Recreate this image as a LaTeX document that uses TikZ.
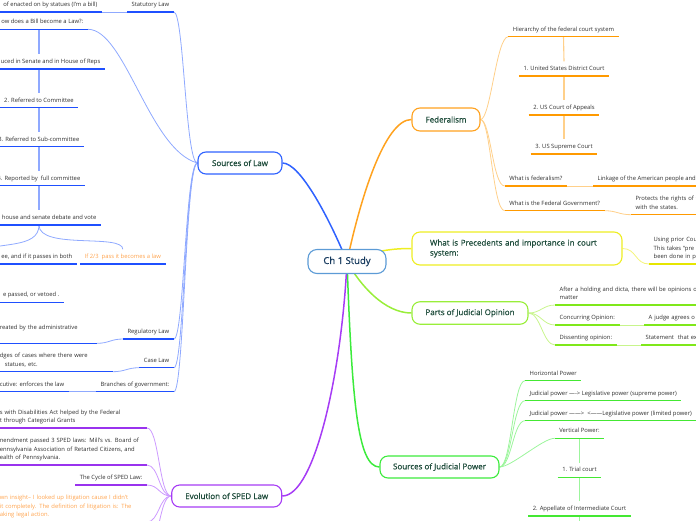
\documentclass[tikz,border=0pt]{standalone}
\usepackage{fontspec}
\setmainfont{Open Sans}
\newfontfamily\topicfam[FakeBold=0.6]{Open Sans}
\usetikzlibrary{backgrounds}
\definecolor{ttext}{HTML}{1D4B3A}
\definecolor{ctext}{HTML}{173A5E}
\definecolor{ltext}{HTML}{2E2E2E}
\definecolor{ortext}{HTML}{FFA34D}
\definecolor{cbord}{HTML}{5C9BD6}
\definecolor{bluem}{HTML}{2F62FF}
\definecolor{bluel}{HTML}{8FA9FF}
\definecolor{blueu}{HTML}{1F50FF}
\definecolor{orm}{HTML}{FFA21F}
\definecolor{orl}{HTML}{FFD08A}
\definecolor{oru}{HTML}{FF9A00}
\definecolor{yem}{HTML}{EEEE22}
\definecolor{yel}{HTML}{F4F47A}
\definecolor{yeu}{HTML}{E6E600}
\definecolor{lim}{HTML}{99EE3A}
\definecolor{lil}{HTML}{C8F58C}
\definecolor{liu}{HTML}{7FE81A}
\definecolor{grm}{HTML}{3CEB3C}
\definecolor{grl}{HTML}{9CF59C}
\definecolor{gru}{HTML}{44E833}
\definecolor{pum}{HTML}{A63CF5}
\definecolor{pul}{HTML}{CC99FF}
\definecolor{puu}{HTML}{9933EE}
\newcommand\leaffont{\fontsize{5.85}{8.3}\selectfont}
\newcommand\topicfont{\topicfam\fontsize{8}{10}\selectfont}
\tikzset{
 topic/.style={draw=#1, line width=1.1pt, fill=white, rounded corners=8pt, text=ttext, font=\topicfont, inner sep=0pt, align=center},
 cnode/.style={draw=cbord, line width=1.1pt, fill=white, rounded corners=9pt, text=ctext, font=\topicfam\fontsize{9.5}{11}\selectfont, inner sep=0pt, minimum width=78pt, minimum height=24pt},
 leaf/.style={font=\leaffont, text=ltext, inner xsep=4.5pt, inner ysep=3pt, align=left, execute at end node=\strut},
 ul/.style={line width=1.3pt, draw=#1},
 mainc/.style={line width=1.5pt, draw=#1},
 subc/.style={line width=0.8pt, draw=#1},
 chain/.style={line width=1.1pt, draw=#1},
}
\begin{document}
\begin{tikzpicture}[x=1pt,y=-1pt]
\useasboundingbox (0,0) rectangle (696,520);
\clip (0,0) rectangle (696,520);
% ---------- main topics
\node[cnode] (c) at (347,261.5) {Ch 1 Study};
\node[topic=bluem, minimum width=84pt, minimum height=22pt] (sl) at (240,163) {Sources of Law};
\node[topic=orm, minimum width=68pt, minimum height=23pt] (fed) at (446,119.5) {Federalism};
\node[topic=yem, minimum width=210pt, minimum height=33pt, text width=174pt, align=left] (prec) at (517,248.5) {\mbox{What is Precedents and importance in court}\\system:};
\node[topic=lim, minimum width=116pt, minimum height=22.5pt] (pjo) at (470,313) {Parts of Judicial Opinion};
\node[topic=grm, minimum width=119pt, minimum height=22pt] (sjp) at (439.5,467) {Sources of Judicial Power};
\node[topic=pum, minimum width=110pt, minimum height=22pt] (sped) at (226.7,496) {Evolution of SPED Law};
% ---------- Sources of Law leaves
\node[leaf, anchor=south east] (st0) at (102,12) {of enacted on by statues (I'm a bill)};
\node[leaf, anchor=south west] (stat) at (127,12) {Statutory Law};
\node[leaf, anchor=south east] (how) at (88,29.3) {ow does a Bill become a Law?:};
\node[leaf, anchor=south east] (b1) at (105,69) {uced in Senate and in House of Reps};
\node[leaf, anchor=south] (b2) at (39,107.7) {2. Referred to Committee};
\node[leaf, anchor=south east] (b3) at (84,146.7) {3. Referred to Sub-committee};
\node[leaf, anchor=south east] (b4) at (85,185.7) {4. Reported by\ \ full committee};
\node[leaf, anchor=south east] (b5) at (101,225) {house and senate debate and vote};
\node[leaf, anchor=south east] (b6a) at (77,264) {ee, and if it passes in both};
\node[leaf, anchor=south west, text=ortext] (b6b) at (80,264) {If 2/3\ \ pass it becomes a law};
\node[leaf, anchor=south east] (b7) at (64,302.3) {e passed, or vetoed .};
\node[leaf, anchor=south east, text width=92.5pt] (regc) at (97,343.3) {reated by the administrative\\\mbox{}};
\node[leaf, anchor=south east] (reg) at (174,339) {Regulatory Law};
\node[leaf, anchor=south east, text width=108.5pt] (casec) at (113,371.7) {dges of cases where there were\\\hspace*{5pt}statues, etc.};
\node[leaf, anchor=south east] (casel) at (174,367.7) {Case Law};
\node[leaf, anchor=south east] (brc) at (69,391.7) {cutive: enforces the law};
\node[leaf, anchor=south east] (br) at (174,391.7) {Branches of government:};
\coordinate (bx) at (39,0);
\coordinate (b6L) at (-25,253);
% ---------- SPED leaves
\node[leaf, anchor=south east, text width=142.5pt] (sp1) at (147,428) {\mbox{s with Disabilities Act helped by the Federal}\\\mbox{t through Categorial Grants}};
\node[leaf, anchor=south east, text width=142.5pt] (sp2) at (147,465) {\mbox{nendment passed 3 SPED laws: Mill's vs. Board of}\\\mbox{ennsylvania Association of Retarted Citizens, and}\\\mbox{ealth of Pennsylvania.}};
\node[leaf, anchor=south east] (cyc) at (147,485) {The Cycle of SPED Law:};
\node[leaf, anchor=south east, text width=142.5pt, text=ortext] (ins) at (147,522) {\mbox{wn insight-- I looked up litigation cause I didn't}\\\mbox{it completely. The definition of litigation is: The}\\\mbox{aking legal action.}};
\coordinate (spx) at (147,550);
% ---------- Federalism leaves
\node[leaf, anchor=south] (hier) at (563.5,36.7) {Hierarchy of the federal court system};
\node[leaf, anchor=south] (dc) at (564,76) {1. United States District Court};
\node[leaf, anchor=south] (ca) at (564,115) {2. US Court of Appeals};
\node[leaf, anchor=south] (sc) at (564,154) {3. US Supreme Court};
\node[leaf, anchor=south west] (wf) at (504.7,186) {What is federalism?};
\node[leaf, anchor=south west] (link) at (593,186) {Linkage of the American people and};
\node[leaf, anchor=south west] (wg) at (504.7,210.7) {What is the Federal Government?};
\node[leaf, anchor=south west, text width=80pt] (prot) at (631,214.7) {\mbox{Protects the rights of t}\\with the states.};
% ---------- Precedents leaf
\node[leaf, anchor=south west, text width=60pt] (using) at (649,264) {\mbox{Using prior Cou}\\\mbox{This takes ``pre}\\\mbox{been done in p}};
% ---------- Judicial opinion leaves
\node[leaf, anchor=south west, text width=160pt] (after) at (555,305) {\mbox{After a holding and dicta, there will be opinions of}\\matter};
\node[leaf, anchor=south west] (conc) at (555,325) {Concurring Opinion:};
\node[leaf, anchor=south west, text width=60pt] (agree) at (644,325) {\mbox{A judge agrees o}};
\node[leaf, anchor=south west] (diss) at (555,345) {Dissenting opinion:};
\node[leaf, anchor=south west, text width=60pt] (stmt) at (641,345) {\mbox{Statement\ \ that ex}};
% ---------- Judicial power leaves
\node[leaf, anchor=south west] (hp) at (525,380.7) {Horizontal Power};
\node[leaf, anchor=south west] (jp1) at (525,400.7) {Judicial power ---{}-> Legislative power (supreme power)};
\node[leaf, anchor=south west] (jp2) at (525,420.7) {Judicial power ------>\ \ <------Legislative power (limited power)};
\node[leaf, anchor=south] (vp) at (579.5,438.3) {Vertical Power:};
\node[leaf, anchor=south] (tc) at (579.5,477.3) {1. Trial court};
\node[leaf, anchor=south] (ap) at (579.5,516) {2. Appellate of Intermediate Court};
\coordinate (apx) at (579.5,545);
% ---------- underlines
\foreach \n in {st0,stat,how,b1,b2,b3,b4,b5,b6a,b6b,b7,regc,reg,casec,casel,brc,br}
  \draw[ul=blueu] (\n.south west) -- (\n.south east);
\foreach \n in {sp1,sp2,cyc,ins}
  \draw[ul=puu] (\n.south west) -- (\n.south east);
\foreach \n in {hier,dc,ca,sc,wf,link,wg,prot}
  \draw[ul=oru] (\n.south west) -- (\n.south east);
\draw[ul=yeu] (using.south west) -- (using.south east);
\foreach \n in {after,conc,agree,diss,stmt}
  \draw[ul=liu] (\n.south west) -- (\n.south east);
\foreach \n in {hp,jp1,jp2,vp,tc,ap}
  \draw[ul=gru] (\n.south west) -- (\n.south east);
% ---------- connectors
\begin{scope}[on background layer]
\draw[mainc=bluem] (c.center) .. controls +(-17,-41.5) and +(18,0) .. (sl.east);
\draw[mainc=orm] (c.center) .. controls +(13,-61.5) and +(-27,0) .. (fed.west);
\draw[mainc=yem] (c.center) .. controls +(28,-11.5) and +(-17,0) .. (prec.west);
\draw[mainc=lim] (c.center) .. controls +(13,23.5) and +(-27,0) .. (pjo.west);
\draw[mainc=grm] (c.center) .. controls +(5,138.5) and +(-22,0) .. (sjp.west);
\draw[mainc=pum] (c.center) .. controls +(-5,108.5) and +(33,0) .. (sped.east);
% Sources of Law
\foreach \n in {stat,reg,casel,br}
  \draw[subc=bluel] (sl.west) .. controls +(-12,0) and +(10,0) .. (\n.south east);
\draw[subc=bluel] (sl.west) .. controls +(-48,-13) and +(37,0) .. (how.south east);
\draw[chain=bluel] (bx |- how.south) -- (bx |- b1.north);
\draw[chain=bluel] (bx |- b1.south) -- (bx |- b2.north);
\draw[chain=bluel] (bx |- b2.south) -- (bx |- b3.north);
\draw[chain=bluel] (bx |- b3.south) -- (bx |- b4.north);
\draw[chain=bluel] (bx |- b4.south) -- (bx |- b5.north);
\draw[subc=bluel] (bx |- b5.south) .. controls +(0,25) and +(0,-16) .. (b6b.north);
\draw[subc=bluel] (bx |- b5.south) .. controls +(0,25) and +(20,-12) .. (b6L);
\draw[subc=bluel] (st0.south east) -- (stat.south west);
\draw[subc=bluel] (regc.south east) .. controls +(12,0) and +(-12,0) .. (reg.south west);
\draw[subc=bluel] (casec.south east) .. controls +(12,0) and +(-12,0) .. (casel.south west);
\draw[subc=bluel] (brc.south east) -- (br.south west);
% Federalism
\foreach \n in {hier,wf,wg}
  \draw[subc=orl] (fed.east) .. controls +(10,0) and +(-12,0) .. (\n.south west);
\draw[chain=orl] (hier.south) -- (dc.north);
\draw[chain=orl] (dc.south) -- (ca.north);
\draw[chain=orl] (ca.south) -- (sc.north);
\draw[subc=orl] (wf.south east) -- (link.south west);
\draw[subc=orl] (wg.south east) .. controls +(12,0) and +(-12,0) .. (prot.south west);
% Precedents
\draw[subc=yel] (prec.east) .. controls +(14,0) and +(-14,0) .. (using.south west);
% Judicial opinion
\foreach \n in {after,conc,diss}
  \draw[subc=lil] (pjo.east) .. controls +(12,0) and +(-12,0) .. (\n.south west);
\draw[subc=lil] (conc.south east) -- (agree.south west);
\draw[subc=lil] (diss.south east) -- (stmt.south west);
% Judicial power
\foreach \n in {hp,jp1,jp2,vp}
  \draw[subc=grl] (sjp.east) .. controls +(12,0) and +(-12,0) .. (\n.south west);
\draw[chain=grl] (vp.south) -- (tc.north);
\draw[chain=grl] (tc.south) -- (ap.north);
\draw[chain=grl] (ap.south) -- (apx);
% SPED
\foreach \n in {sp1,sp2,cyc,ins}
  \draw[subc=pul] (sped.west) .. controls +(-12,0) and +(12,0) .. (\n.south east);
\draw[subc=pul] (sped.west) .. controls +(-12,0) and +(12,0) .. (spx);
\end{scope}
\end{tikzpicture}
\end{document}
